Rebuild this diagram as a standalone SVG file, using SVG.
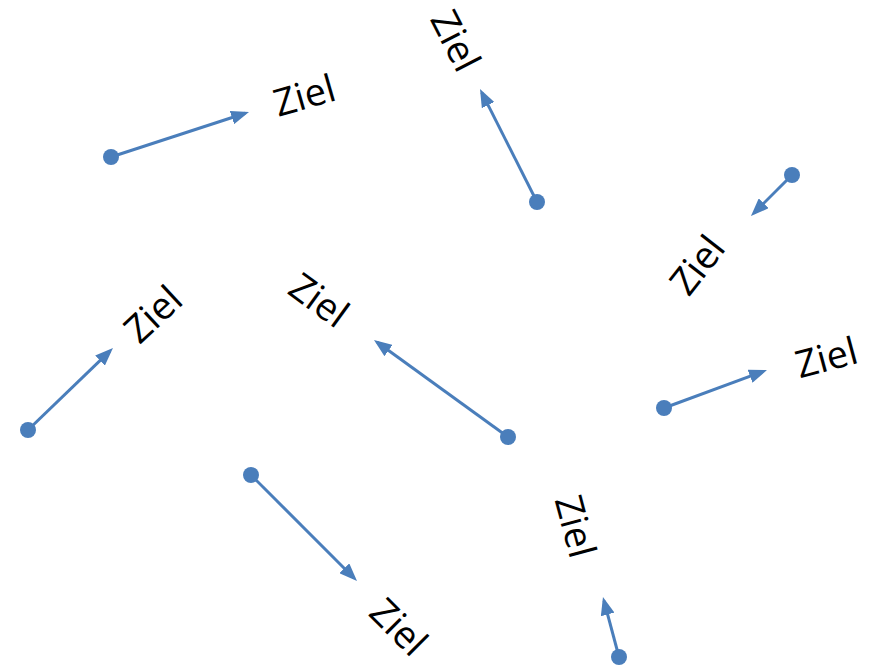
<svg xmlns="http://www.w3.org/2000/svg" width="877" height="667" viewBox="0 0 877 667">
<style>
.ln{stroke:#4A7EBB;stroke-width:3;fill:none;marker-end:url(#ah)}
.dot{fill:#4A7EBB}
.lbl{font-family:"Open Sans","Noto Sans","Liberation Sans",sans-serif;font-size:38px;fill:#000;text-anchor:middle;dominant-baseline:central}
</style>
<defs>
<marker id="ah" viewBox="0 0 18 14" markerWidth="18" markerHeight="14" refX="14" refY="7" orient="auto" markerUnits="userSpaceOnUse">
<path d="M0,0 L18,7 L0,14 z" fill="#4A7EBB"/>
</marker>
</defs>
<rect width="877" height="667" fill="#fff"/>
<g id="connectors">
<line class="ln" x1="111" y1="157" x2="245.2" y2="113.2"/>
<line class="ln" x1="537" y1="202" x2="481.8" y2="92.6"/>
<line class="ln" x1="792" y1="175" x2="753.8" y2="213.2"/>
<line class="ln" x1="28" y1="430" x2="110.1" y2="350.8"/>
<line class="ln" x1="508" y1="437" x2="377.2" y2="342.3"/>
<line class="ln" x1="664" y1="408" x2="763.2" y2="371.4"/>
<line class="ln" x1="251" y1="475" x2="354.2" y2="578.2"/>
<line class="ln" x1="619" y1="657" x2="604" y2="600.9"/>
</g>
<g id="start1"><circle class="dot" cx="111" cy="157" r="8"/></g>
<g id="start2"><circle class="dot" cx="537" cy="202" r="8"/></g>
<g id="start3"><circle class="dot" cx="792" cy="175" r="8"/></g>
<g id="start4"><circle class="dot" cx="28" cy="430" r="8"/></g>
<g id="start5"><circle class="dot" cx="508" cy="437" r="8"/></g>
<g id="start6"><circle class="dot" cx="664" cy="408" r="8"/></g>
<g id="start7"><circle class="dot" cx="251" cy="475" r="8"/></g>
<g id="start8"><circle class="dot" cx="619" cy="657" r="8"/></g>
<g id="ziel1"><text class="lbl" transform="translate(304,94) rotate(-16)">Ziel</text></g>
<g id="ziel2"><text class="lbl" transform="translate(457,40) rotate(63)">Ziel</text></g>
<g id="ziel3"><text class="lbl" transform="translate(696,264) rotate(-52)">Ziel</text></g>
<g id="ziel4"><text class="lbl" transform="translate(152,313) rotate(-43)">Ziel</text></g>
<g id="ziel5"><text class="lbl" transform="translate(320,299) rotate(36)">Ziel</text></g>
<g id="ziel6"><text class="lbl" transform="translate(826,356) rotate(-15)">Ziel</text></g>
<g id="ziel7"><text class="lbl" transform="translate(400,626) rotate(45)">Ziel</text></g>
<g id="ziel8"><text class="lbl" transform="translate(577,526) rotate(75)">Ziel</text></g>
</svg>
